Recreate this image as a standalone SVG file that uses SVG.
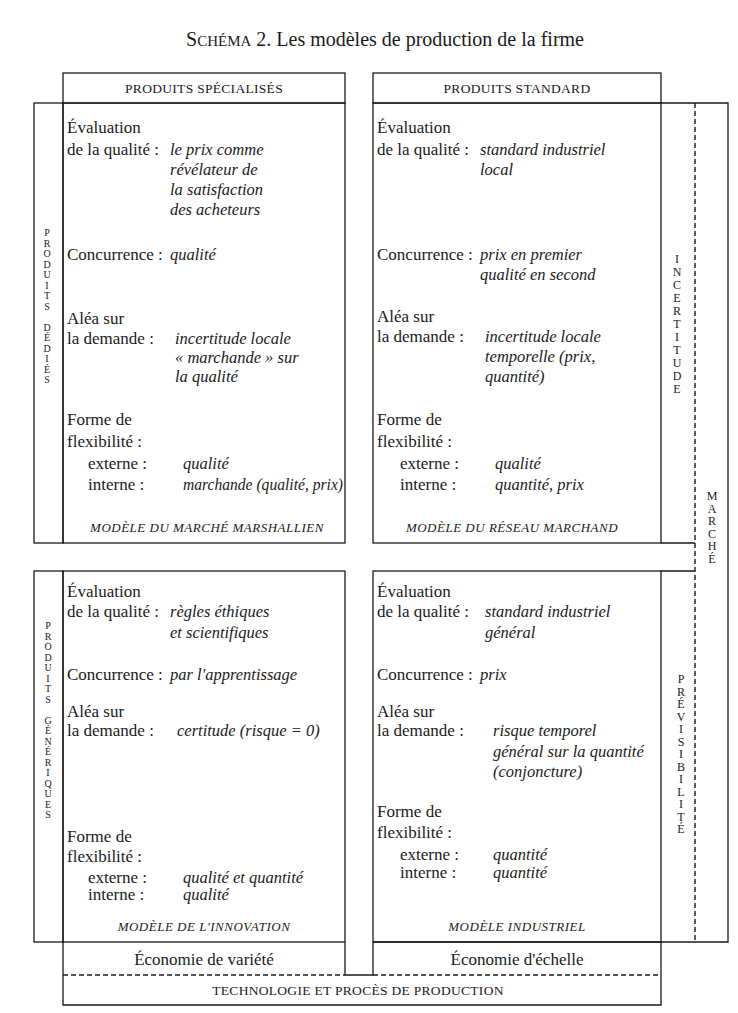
<svg xmlns="http://www.w3.org/2000/svg" width="738" height="1013" viewBox="0 0 738 1013">
<style>
.ln{stroke:#1a1a1a;stroke-width:1.3;fill:none}
.ds{stroke:#1a1a1a;stroke-width:1.4;fill:none;stroke-dasharray:5 3}
.t{font-family:"Liberation Serif",serif;font-size:17px;fill:#1a1a1a}
.v{font-family:"Liberation Serif",serif;font-size:16.5px;font-style:italic;fill:#1a1a1a}
.h{font-family:"Liberation Serif",serif;font-size:13.5px;fill:#1a1a1a;text-anchor:middle;letter-spacing:0.3px}
.m{font-family:"Liberation Serif",serif;font-size:13px;font-style:italic;fill:#1a1a1a;text-anchor:middle;letter-spacing:0.5px}
.vs{font-family:"Liberation Serif",serif;font-size:10px;fill:#1a1a1a;text-anchor:middle}
.vt{font-family:"Liberation Serif",serif;font-size:12px;fill:#1a1a1a;text-anchor:middle}
.ti{font-family:"Liberation Serif",serif;font-size:20px;fill:#1a1a1a;text-anchor:middle}
</style>
<rect width="738" height="1013" fill="#ffffff"/>
<text class="ti" x="385" y="46">S<tspan font-size="15">CHÉMA</tspan> 2.  Les modèles de production de la firme</text>

<g id="connectors">
<rect class="ln" x="63" y="73" width="282" height="30"/>
<rect class="ln" x="373" y="73" width="288" height="30"/>
<rect class="ln" x="34" y="103" width="29" height="440"/>
<rect class="ln" x="63" y="103" width="282" height="440"/>
<rect class="ln" x="373" y="103" width="288" height="440"/>
<polyline class="ln" points="661,103 728,103 728,942 373,942"/>
<polyline class="ln" points="661,543 695,543"/>
<polyline class="ln" points="661,571 695,571"/>
<line class="ds" x1="695" y1="103" x2="695" y2="942"/>
<rect class="ln" x="34" y="571" width="29" height="371"/>
<rect class="ln" x="63" y="571" width="282" height="371"/>
<rect class="ln" x="373" y="571" width="288" height="371"/>
<polyline class="ln" points="63,942 63,1005 661,1005 661,942"/>
<polyline class="ln" points="345,942 345,975 373,975 373,942"/>
<line class="ds" x1="63" y1="975" x2="345" y2="975"/>
<line class="ds" x1="373" y1="975" x2="661" y2="975"/>
</g>

<g id="header-specialises"><text class="h" x="204" y="93">PRODUITS SPÉCIALISÉS</text></g>
<g id="header-standard"><text class="h" x="517" y="93">PRODUITS STANDARD</text></g>

<g id="produits-dedies">
<text class="vs" x="47" y="236"><tspan x="47" dy="0">P</tspan><tspan x="47" dy="10.5">R</tspan><tspan x="47" dy="10.5">O</tspan><tspan x="47" dy="10.5">D</tspan><tspan x="47" dy="10.5">U</tspan><tspan x="47" dy="10.5">I</tspan><tspan x="47" dy="10.5">T</tspan><tspan x="47" dy="10.5">S</tspan><tspan x="47" dy="21">D</tspan><tspan x="47" dy="10.5">É</tspan><tspan x="47" dy="10.5">D</tspan><tspan x="47" dy="10.5">I</tspan><tspan x="47" dy="10.5">É</tspan><tspan x="47" dy="10.5">S</tspan></text>
</g>

<g id="produits-generiques">
<text class="vs" x="48" y="629"><tspan x="48" dy="0">P</tspan><tspan x="48" dy="10.5">R</tspan><tspan x="48" dy="10.5">O</tspan><tspan x="48" dy="10.5">D</tspan><tspan x="48" dy="10.5">U</tspan><tspan x="48" dy="10.5">I</tspan><tspan x="48" dy="10.5">T</tspan><tspan x="48" dy="10.5">S</tspan><tspan x="48" dy="21">G</tspan><tspan x="48" dy="10.5">É</tspan><tspan x="48" dy="10.5">N</tspan><tspan x="48" dy="10.5">É</tspan><tspan x="48" dy="10.5">R</tspan><tspan x="48" dy="10.5">I</tspan><tspan x="48" dy="10.5">Q</tspan><tspan x="48" dy="10.5">U</tspan><tspan x="48" dy="10.5">E</tspan><tspan x="48" dy="10.5">S</tspan></text>
</g>

<g id="incertitude">
<text class="vt" x="677" y="263"><tspan x="677" dy="0">I</tspan><tspan x="677" dy="13">N</tspan><tspan x="677" dy="13">C</tspan><tspan x="677" dy="13">E</tspan><tspan x="677" dy="13">R</tspan><tspan x="677" dy="13">T</tspan><tspan x="677" dy="13">I</tspan><tspan x="677" dy="13">T</tspan><tspan x="677" dy="13">U</tspan><tspan x="677" dy="13">D</tspan><tspan x="677" dy="13">E</tspan></text>
</g>

<g id="previsibilite">
<text class="vt" x="681" y="683"><tspan x="681" dy="0">P</tspan><tspan x="681" dy="12.5">R</tspan><tspan x="681" dy="12.5">É</tspan><tspan x="681" dy="12.5">V</tspan><tspan x="681" dy="12.5">I</tspan><tspan x="681" dy="12.5">S</tspan><tspan x="681" dy="12.5">I</tspan><tspan x="681" dy="12.5">B</tspan><tspan x="681" dy="12.5">I</tspan><tspan x="681" dy="12.5">L</tspan><tspan x="681" dy="12.5">I</tspan><tspan x="681" dy="12.5">T</tspan><tspan x="681" dy="12.5">É</tspan></text>
</g>

<g id="marche">
<text class="vt" x="712" y="500"><tspan x="712" dy="0">M</tspan><tspan x="712" dy="12.5">A</tspan><tspan x="712" dy="12.5">R</tspan><tspan x="712" dy="12.5">C</tspan><tspan x="712" dy="12.5">H</tspan><tspan x="712" dy="12.5">É</tspan></text>
</g>

<g id="marche-marshallien">
<text class="t" x="67" y="133">Évaluation</text>
<text class="t" x="67" y="155">de la qualité :</text>
<text class="v" x="170" y="155">le prix comme</text>
<text class="v" x="170" y="175">révélateur de</text>
<text class="v" x="170" y="195">la satisfaction</text>
<text class="v" x="170" y="215">des acheteurs</text>
<text class="t" x="67" y="260">Concurrence :</text>
<text class="v" x="170" y="260">qualité</text>
<text class="t" x="67" y="324">Aléa sur</text>
<text class="t" x="67" y="344">la demande :</text>
<text class="v" x="175" y="344">incertitude locale</text>
<text class="v" x="175" y="363">« marchande » sur</text>
<text class="v" x="175" y="382">la qualité</text>
<text class="t" x="67" y="425">Forme de</text>
<text class="t" x="67" y="447">flexibilité :</text>
<text class="t" x="88" y="469">externe :</text>
<text class="v" x="183" y="469">qualité</text>
<text class="t" x="88" y="490">interne :</text>
<text class="v" x="183" y="490" textLength="160" lengthAdjust="spacingAndGlyphs">marchande (qualité, prix)</text>
<text class="m" x="207" y="532">MODÈLE DU MARCHÉ MARSHALLIEN</text>
</g>

<g id="reseau-marchand">
<text class="t" x="377" y="133">Évaluation</text>
<text class="t" x="377" y="155">de la qualité :</text>
<text class="v" x="480" y="155">standard industriel</text>
<text class="v" x="480" y="175">local</text>
<text class="t" x="377" y="260">Concurrence :</text>
<text class="v" x="480" y="260">prix en premier</text>
<text class="v" x="480" y="280">qualité en second</text>
<text class="t" x="377" y="322">Aléa sur</text>
<text class="t" x="377" y="342">la demande :</text>
<text class="v" x="485" y="342">incertitude locale</text>
<text class="v" x="485" y="362">temporelle (prix,</text>
<text class="v" x="485" y="382">quantité)</text>
<text class="t" x="377" y="425">Forme de</text>
<text class="t" x="377" y="447">flexibilité :</text>
<text class="t" x="400" y="469">externe :</text>
<text class="v" x="495" y="469">qualité</text>
<text class="t" x="400" y="490">interne :</text>
<text class="v" x="495" y="490">quantité, prix</text>
<text class="m" x="512" y="532">MODÈLE DU RÉSEAU MARCHAND</text>
</g>

<g id="innovation">
<text class="t" x="67" y="597">Évaluation</text>
<text class="t" x="67" y="617">de la qualité :</text>
<text class="v" x="170" y="617">règles éthiques</text>
<text class="v" x="170" y="638">et scientifiques</text>
<text class="t" x="67" y="680">Concurrence :</text>
<text class="v" x="170" y="680">par l'apprentissage</text>
<text class="t" x="67" y="717">Aléa sur</text>
<text class="t" x="67" y="736">la demande :</text>
<text class="v" x="177" y="736">certitude (risque = 0)</text>
<text class="t" x="67" y="842">Forme de</text>
<text class="t" x="67" y="862">flexibilité :</text>
<text class="t" x="88" y="883">externe :</text>
<text class="v" x="183" y="883">qualité et quantité</text>
<text class="t" x="88" y="900">interne :</text>
<text class="v" x="183" y="900">qualité</text>
<text class="m" x="204" y="931">MODÈLE DE L'INNOVATION</text>
</g>

<g id="industriel">
<text class="t" x="377" y="597">Évaluation</text>
<text class="t" x="377" y="617">de la qualité :</text>
<text class="v" x="485" y="617">standard industriel</text>
<text class="v" x="485" y="638">général</text>
<text class="t" x="377" y="680">Concurrence :</text>
<text class="v" x="480" y="680">prix</text>
<text class="t" x="377" y="717">Aléa sur</text>
<text class="t" x="377" y="736">la demande :</text>
<text class="v" x="493" y="736">risque temporel</text>
<text class="v" x="493" y="757">général sur la quantité</text>
<text class="v" x="493" y="777">(conjoncture)</text>
<text class="t" x="377" y="817">Forme de</text>
<text class="t" x="377" y="838">flexibilité :</text>
<text class="t" x="400" y="860">externe :</text>
<text class="v" x="493" y="860">quantité</text>
<text class="t" x="400" y="878">interne :</text>
<text class="v" x="493" y="878">quantité</text>
<text class="m" x="517" y="931">MODÈLE INDUSTRIEL</text>
</g>

<g id="economie-variete"><text class="t" x="204" y="965" text-anchor="middle">Économie de variété</text></g>
<g id="economie-echelle"><text class="t" x="517" y="965" text-anchor="middle" font-size="17.5">Économie d'échelle</text></g>
<g id="technologie"><text class="h" x="358" y="995" font-size="14" letter-spacing="0.5">TECHNOLOGIE ET PROCÈS DE PRODUCTION</text></g>
</svg>
